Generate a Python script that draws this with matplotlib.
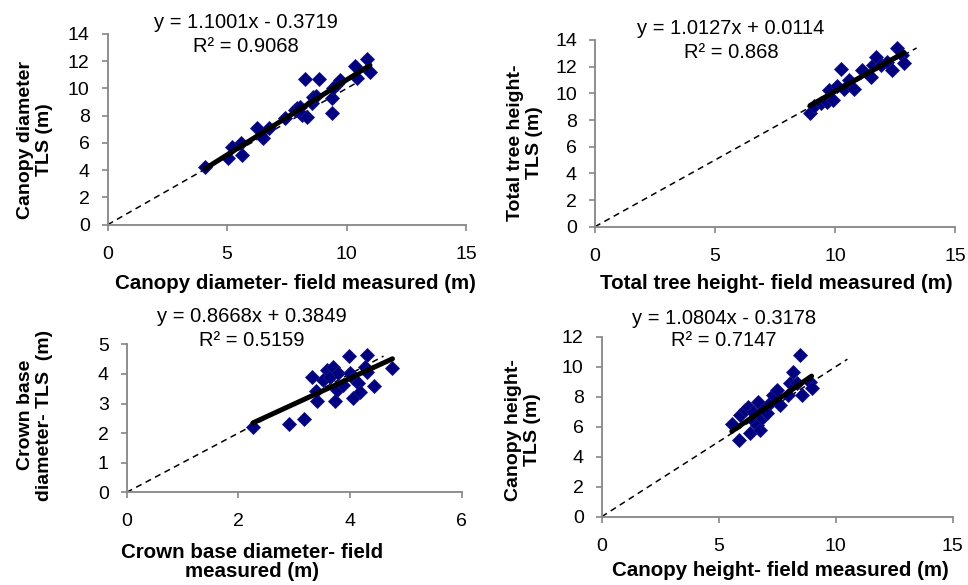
import matplotlib
matplotlib.use("Agg")
import matplotlib.pyplot as plt
import numpy as np

plt.rcParams['font.family'] = ['Liberation Sans', 'DejaVu Sans']

# canopy diameter (top left)
cd_field = [4.07, 5.02, 5.21, 5.56, 5.63, 6.27, 6.51, 6.76, 7.42, 7.84, 7.91, 8.05, 8.12,
            8.26, 8.33, 8.54, 8.6, 8.7, 8.85, 9.37, 9.37, 9.44, 9.58, 9.72, 10.35, 10.42,
            10.84, 10.98]
cd_tls = [4.26, 4.92, 5.73, 5.97, 5.12, 7.12, 6.39, 7.08, 7.81, 8.42, 8.54, 8.66, 8.05,
          10.68, 7.93, 8.91, 9.4, 9.45, 10.7, 9.28, 8.22, 10.01, 10.3, 10.62, 11.67, 10.75,
          12.14, 11.23]

# total tree height (top right)
th_field = [8.96, 9.13, 9.4, 9.68, 9.75, 9.9, 10.1, 10.24, 10.38, 10.58, 10.8, 11.14,
            11.49, 11.6, 11.7, 11.9, 12.18, 12.39, 12.6, 12.8, 12.88]
th_tls = [8.5, 9.05, 9.25, 9.38, 10.25, 9.5, 10.55, 11.8, 10.3, 11.0, 10.3, 11.75,
          11.25, 12.1, 12.75, 12.13, 12.38, 11.75, 13.38, 12.88, 12.25]

# crown base diameter (bottom left)
cb_field = [2.26, 2.91, 3.17, 3.32, 3.39, 3.4, 3.52, 3.58, 3.64, 3.7, 3.73, 3.76, 3.79,
            3.88, 3.99, 4.0, 4.05, 4.06, 4.15, 4.18, 4.27, 4.3, 4.3, 4.43, 4.76]
cb_tls = [2.2, 2.31, 2.47, 3.9, 3.43, 3.1, 3.8, 4.13, 3.9, 4.24, 3.1, 3.46, 4.02,
          3.62, 4.6, 4.02, 3.86, 3.17, 3.68, 3.4, 4.24, 4.64, 4.07, 3.59, 4.19]

# canopy height (bottom right)
ch_field = [5.56, 5.87, 5.91, 6.12, 6.27, 6.34, 6.48, 6.48, 6.62, 6.69, 6.77, 6.84, 6.91,
            7.05, 7.19, 7.33, 7.48, 7.62, 7.97, 8.05, 8.19, 8.33, 8.47, 8.55, 8.9, 8.97]
ch_tls = [6.16, 5.11, 6.78, 7.11, 7.33, 5.56, 7.0, 6.44, 6.11, 7.67, 5.78, 6.56, 7.11,
          6.89, 7.56, 8.11, 8.44, 7.44, 8.11, 8.89, 9.67, 8.89, 10.78, 8.11, 9.0, 8.56]

slopes = [1.1001, 1.0127, 0.8668, 1.0804]
intercepts = [-0.3719, 0.0114, 0.3849, -0.3178]
r2 = ["0.9068", "0.868", "0.5159", "0.7147"]
eq_text = ["y = 1.1001x - 0.3719", "y = 1.0127x + 0.0114",
           "y = 0.8668x + 0.3849", "y = 1.0804x - 0.3178"]
xlabels = ["Canopy diameter- field measured (m)", "Total tree height- field measured (m)",
           "Crown base diameter- field\nmeasured (m)", "Canopy height- field measured (m)"]
ylabels = ["Canopy diameter\nTLS (m)", "Total tree height-\nTLS (m)",
           "Crown base\ndiameter- TLS  (m)", "Canopy height-\nTLS (m)"]
xmax = [15, 15, 6, 15]
xstep = [5, 5, 2, 5]
ymax = [14, 14, 5, 12]
ystep = [2, 2, 1, 2]
line11_end = [10.8, 13.4, 4.6, 10.5]

W, H = 968, 585
# axes boxes in pixels: left, top, right, bottom
boxes = [(107.7, 34, 466, 224.7), (595, 40, 955, 226.7),
         (126.7, 344.3, 461.7, 492.3), (601.7, 336.7, 952.7, 516.7)]
# text anchors in pixels
eq_pos = [(246, 23, 47), (731, 29, 53), (252, 317, 341), (724, 318, 341)]
xlab_pos = [(295, 283), (776, 283), (252, 562), (780, 570)]
ylab_pos = [(35, 140), (525, 143), (35, 415), (523, 430)]

data = [(cd_field, cd_tls), (th_field, th_tls), (cb_field, cb_tls), (ch_field, ch_tls)]

fig = plt.figure(figsize=(W / 100, H / 100), dpi=100)
grey = "#868686"
fs = 14

for i in range(4):
    l, t, r, b = boxes[i]
    ax = fig.add_axes([l / W, 1 - b / H, (r - l) / W, (b - t) / H])
    x, y = data[i]
    ax.plot([0, line11_end[i]], [0, line11_end[i]], color="black", lw=1.1,
            dashes=(4, 3), zorder=1)
    ax.plot(x, y, linestyle="none", marker="D", ms=7, mfc="#000080",
            mec="#1a1a80", mew=0.6, zorder=2)
    xs = np.array([min(x), max(x)])
    ax.plot(xs, slopes[i] * xs + intercepts[i], color="black", lw=3.6,
            solid_capstyle="round", zorder=3)

    ax.set_xlim(0, xmax[i])
    ax.set_ylim(0, ymax[i])
    ax.set_xticks(np.arange(0, xmax[i] + 0.1, xstep[i]))
    ax.set_yticks(np.arange(0, ymax[i] + 0.1, ystep[i]))
    for s in ["top", "right"]:
        ax.spines[s].set_visible(False)
    for s in ["left", "bottom"]:
        ax.spines[s].set_color(grey)
        ax.spines[s].set_linewidth(1.3)
    ax.tick_params(direction="out", length=4, width=1.2, color=grey, labelsize=fs)
    ax.tick_params(axis="x", pad=11)
    ax.tick_params(axis="y", pad=9)
    ax.patch.set_alpha(0)

    ex, ey1, ey2 = eq_pos[i]
    fig.text(ex / W, 1 - ey1 / H, eq_text[i], ha="center", va="center", fontsize=14.5)
    fig.text(ex / W, 1 - ey2 / H, "R² = " + r2[i], ha="center", va="center", fontsize=14.5)
    lx, ly = xlab_pos[i]
    fig.text(lx / W, 1 - ly / H, xlabels[i], ha="center", va="center",
             fontsize=14.8, fontweight="bold", linespacing=1.05)
    yx, yy = ylab_pos[i]
    fig.text(yx / W, 1 - yy / H, ylabels[i], ha="center", va="center", rotation=90,
             fontsize=fs, fontweight="bold", linespacing=1.1)

fig.savefig("out.png", dpi=100)
